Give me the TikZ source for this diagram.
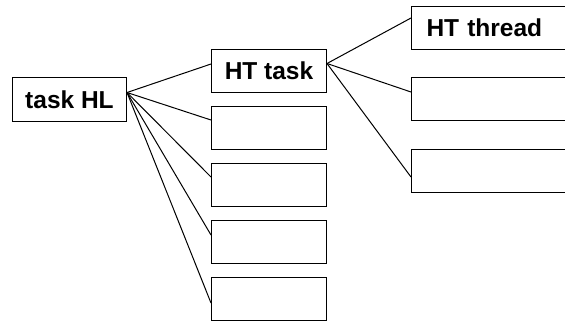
\documentclass[tikz,border=0pt]{standalone}
\usepackage{fontspec}
\newfontfamily\arial{Liberation Sans}
\usetikzlibrary{positioning}

\begin{document}
\begin{tikzpicture}[
    x=1pt, y=-1pt,
    font=\arial\bfseries\fontsize{24.5}{28}\selectfont,
    nodo/.style={draw, line width=1pt, minimum width=115pt,
                 minimum height=43pt, inner sep=0pt, anchor=north west},
    hilo/.style={nodo, text width=130pt, align=left, inner xsep=15pt},
    rama/.style={line width=1pt}
]
\useasboundingbox (0,0) rectangle (565,322);
\clip (0,0) rectangle (565,322);

% root
\node[nodo, minimum width=114pt, minimum height=44pt] (hl) at (12,77) {task HL};

% middle column
\node[nodo] (t1) at (211,49)  {HT task};
\node[nodo] (t2) at (211,106) {};
\node[nodo] (t3) at (211,163) {};
\node[nodo] (t4) at (211,220) {};
\node[nodo] (t5) at (211,277) {};

% right column, runs past the edge
\node[hilo] (h1) at (411,6)   {HT thread};
\node[hilo] (h2) at (411,77)  {};
\node[hilo] (h3) at (411,149) {};

\coordinate (hlout) at ([yshift=7pt]hl.east);
\coordinate (t1out) at ([yshift=7.5pt]t1.east);

\foreach \n/\d in {t1/15, t2/14, t3/14, t4/15, t5/26}
    \draw[rama] (hlout) -- ([yshift=-\d pt]\n.north west);

\foreach \n/\d in {h1/12, h2/15, h3/28}
    \draw[rama] (t1out) -- ([yshift=-\d pt]\n.north west);

\end{tikzpicture}
\end{document}
